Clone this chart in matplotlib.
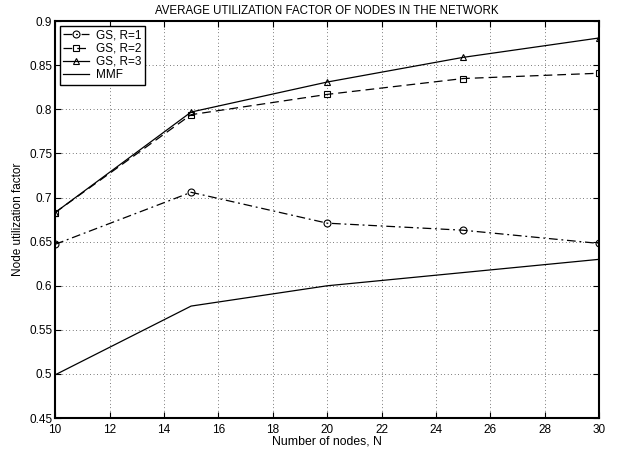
import matplotlib
matplotlib.use("Agg")
import matplotlib.pyplot as plt

plt.rcParams['font.family'] = ['Liberation Sans', 'DejaVu Sans']

nodes = [10, 15, 20, 25, 30]
gs_r1 = [0.647, 0.706, 0.671, 0.663, 0.648]
gs_r2 = [0.683, 0.794, 0.817, 0.835, 0.841]
gs_r3 = [0.683, 0.797, 0.831, 0.859, 0.881]
mmf = [0.499, 0.577, 0.600, 0.615, 0.630]

fig = plt.figure(figsize=(6.19, 4.51), dpi=100)
ax = fig.add_axes([0.089, 0.073, 0.879, 0.88])

mk = dict(color='k', mfc='none', mec='k', markersize=5, linewidth=0.9, mew=0.8)
ax.plot(nodes, gs_r1, linestyle=(0, (7, 3, 1.5, 3)), marker='o', label='GS, R=1', **mk)
ax.plot(nodes, gs_r2, linestyle=(0, (7, 4)), marker='s', label='GS, R=2', **mk)
ax.plot(nodes, gs_r3, linestyle='-', marker='^', label='GS, R=3', **mk)
ax.plot(nodes, mmf, linestyle='-', color='k', linewidth=0.9, label='MMF')

ax.set_xlim(10, 30)
ax.set_ylim(0.45, 0.9)
ax.set_xticks(range(10, 31, 2))
ax.set_yticks([0.45, 0.5, 0.55, 0.6, 0.65, 0.7, 0.75, 0.8, 0.85, 0.9])
ax.set_yticklabels(['0.45', '0.5', '0.55', '0.6', '0.65', '0.7', '0.75', '0.8', '0.85', '0.9'])
ax.tick_params(direction='in', labelsize=8.5, length=4, width=0.8, top=True, right=True)
ax.tick_params(axis='x', pad=4)
ax.tick_params(axis='y', pad=2)
for s in ax.spines.values():
    s.set_linewidth(1.5)
ax.grid(True, linestyle=(0, (1, 4)), color='k', linewidth=0.5)

ax.set_title('AVERAGE UTILIZATION FACTOR OF NODES IN THE NETWORK', fontsize=8.3, pad=5)
ax.set_xlabel('Number of nodes, N', fontsize=8.8, labelpad=0)
ax.set_ylabel('Node utilization factor', fontsize=8.5, labelpad=4)

leg = ax.legend(loc='upper left', fontsize=8.5, fancybox=False, framealpha=1,
                edgecolor='k', handlelength=2.2, borderpad=0.3, labelspacing=0.1,
                borderaxespad=0.4, handletextpad=0.6)
leg.get_frame().set_linewidth(1.0)

fig.savefig('out.png', dpi=100)
